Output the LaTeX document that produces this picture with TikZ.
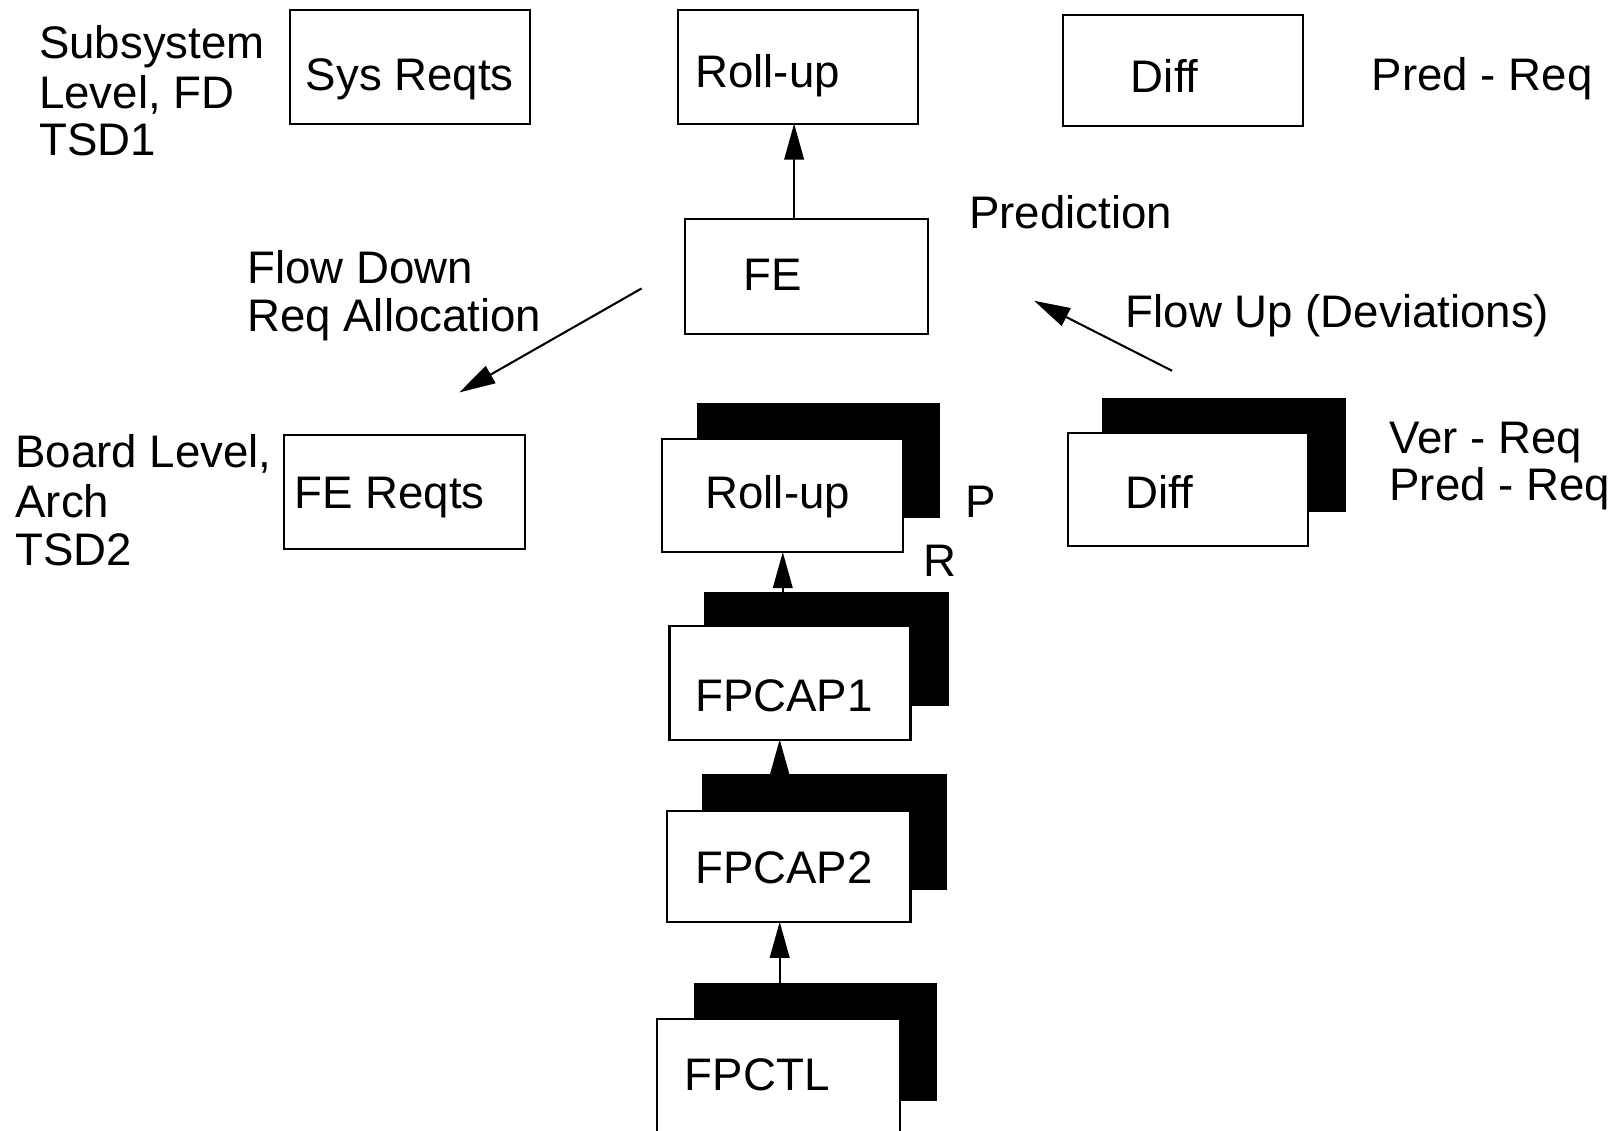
\documentclass[tikz,border=0pt]{standalone}
\usepackage{fontspec}
\setmainfont{Liberation Sans}
\usetikzlibrary{arrows.meta,calc}
\begin{document}
\begin{tikzpicture}[x=1pt,y=-1pt,
  box/.style={draw=black, line width=2pt, fill=white, inner sep=0pt, outer sep=0pt},
  backbox/.style={draw=black, fill=black, line width=1pt, inner sep=0pt, outer sep=0pt},
  lbl/.style={inner sep=0pt, outer sep=0pt, anchor=base west, font=\fontsize{44.3pt}{48pt}\selectfont},
  arr/.style={line width=2pt, -{Triangle[length=35pt,width=19pt]}}
]
\useasboundingbox[fill=white] (0,0) rectangle (1568,1098);

% ---------- subsystem level ----------
\node[lbl] (sub1) at (38,57)  {Subsystem};
\node[lbl] (sub2) at (38,105) {Level, FD};
\node[lbl] (sub3) at (38,151) {TSD1};

\node[box, minimum width=233pt, minimum height=110pt] (sysreq) at (398.5,65) {};
\node[lbl] (sysreqt) at (297,88) {Sys Reqts};

\node[box, minimum width=233pt, minimum height=110pt] (rolltop) at (774.5,65) {};
\node[lbl] (rolltopt) at (675,85) {Roll-up};

\node[box, minimum width=233pt, minimum height=107pt] (difftop) at (1148.5,68.5) {};
\node[lbl] (difftopt) at (1098,90) {Diff};

\node[lbl] (predreq) at (1332,88) {Pred - Req};

% ---------- FE ----------
\node[box, minimum width=236pt, minimum height=111pt] (fe) at (783,268.5) {};
\node[lbl] (fet) at (722,282) {FE};
\node[lbl] (pred) at (941,222) {Prediction};

\node[lbl] (fd1) at (240,275) {Flow Down};
\node[lbl] (fd2) at (240,322) {Req Allocation};
\node[lbl] (fu)  at (1093,318) {Flow Up (Deviations)};

\coordinate (fdstart) at (623,280);
\coordinate (fdend)   at (446,381);
\coordinate (fustart) at (1138,360);
\coordinate (fuend)   at (1004,292);

\draw[arr] (fe.north -| 771,0) -- (rolltop.south -| 771,0);
\draw[arr] (fdstart) -- (fdend);
\draw[arr] (fustart) -- (fuend);

% ---------- board level ----------
\node[lbl] (brd1) at (15,454) {Board Level,};
\node[lbl] (brd2) at (15,502) {Arch};
\node[lbl] (brd3) at (15,549) {TSD2};

\node[box, minimum width=234pt, minimum height=111pt] (fereq) at (393,477.5) {};
\node[lbl] (fereqt) at (286,494) {FE Reqts};

\node[backbox, minimum width=235pt, minimum height=110pt] (rollmidb) at (794.5,447) {};
\node[box, minimum width=234pt, minimum height=110pt] (rollmid) at (760,481) {};
\node[lbl] (rollmidt) at (685,494) {Roll-up};
\node[lbl] (plbl) at (937,502) {P};
\node[lbl] (rlbl) at (897,560) {R};

\node[backbox, minimum width=236pt, minimum height=110pt] (diffmidb) at (1188,442) {};
\node[box, minimum width=233pt, minimum height=110pt] (diffmid) at (1153.5,475) {};
\node[lbl] (diffmidt) at (1093,494) {Diff};
\node[lbl] (vr) at (1349,440) {Ver - Req};
\node[lbl] (pr) at (1349,486) {Pred - Req};

% ---------- component chain ----------
\node[backbox, minimum width=237pt, minimum height=110pt] (cap1b) at (802.5,630) {};
\node[box, minimum width=234pt, minimum height=110pt] (cap1) at (767,663) {};
\node[lbl] (cap1t) at (675,691) {FPCAP1};

\node[backbox, minimum width=237pt, minimum height=112pt] (cap2b) at (800.5,808) {};
\node[box, minimum width=236pt, minimum height=108pt] (cap2) at (766,841) {};
\node[lbl] (cap2t) at (675,858) {FPCAP2};

\node[backbox, minimum width=235pt, minimum height=113pt] (ctlb) at (791.5,1011.5) {};
\node[box, minimum width=236pt, minimum height=121pt] (ctl) at (756,1049.5) {};
\node[lbl] (ctlt) at (665,1059) {FPCTL};

\draw[arr] (cap1b.north -| 760,0) -- (rollmid.south -| 760,0);
\draw[arr] (cap2b.north -| 757,0) -- (cap1.south -| 757,0);
\draw[arr] (ctlb.north -| 757,0) -- (cap2.south -| 757,0);
\end{tikzpicture}
\end{document}
